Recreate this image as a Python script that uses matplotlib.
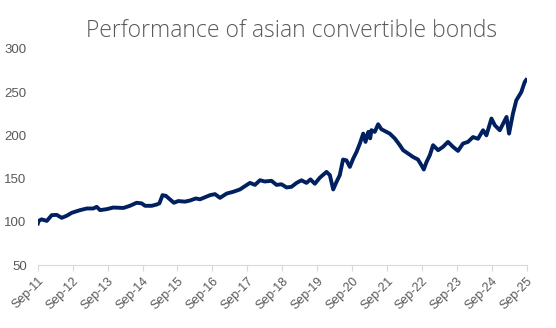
import pandas as pd
import matplotlib
matplotlib.use('Agg')
import matplotlib.pyplot as plt
import matplotlib.dates as mdates

# Values (index level, start ~100)
dates = ['2011-09-01', '2011-09-09', '2011-10-12', '2011-12-04', '2012-01-25', '2012-03-17',
         '2012-05-08', '2012-06-30', '2012-08-21', '2012-11-17', '2013-01-26', '2013-04-04',
         '2013-05-09', '2013-06-13', '2013-08-22', '2013-10-30', '2014-02-13', '2014-04-22',
         '2014-07-01', '2014-08-23', '2014-09-27', '2014-12-06', '2015-01-27', '2015-02-24',
         '2015-03-29', '2015-05-03', '2015-06-14', '2015-07-26', '2015-09-10', '2015-11-19',
         '2016-01-10', '2016-03-12', '2016-04-24', '2016-08-07', '2016-09-28', '2016-11-19',
         '2017-01-29', '2017-04-07', '2017-06-16', '2017-08-07', '2017-09-29', '2017-11-20',
         '2018-01-12', '2018-03-03', '2018-05-12', '2018-07-04', '2018-08-25', '2018-10-17',
         '2018-12-08', '2019-01-30', '2019-03-22', '2019-05-13', '2019-06-24', '2019-08-09',
         '2019-09-30', '2019-12-09', '2020-01-13', '2020-02-17', '2020-03-22', '2020-04-26',
         '2020-05-30', '2020-07-05', '2020-08-09', '2020-09-13', '2020-10-18', '2020-11-22',
         '2020-12-27', '2021-01-20', '2021-02-18', '2021-03-10', '2021-03-23', '2021-04-27',
         '2021-06-01', '2021-07-06', '2021-08-10', '2021-10-01', '2021-11-23', '2022-01-14',
         '2022-02-18', '2022-04-10', '2022-06-01', '2022-07-23', '2022-08-28', '2022-09-22',
         '2022-10-20', '2022-11-24', '2022-12-28', '2023-02-19', '2023-04-11', '2023-06-02',
         '2023-07-24', '2023-09-15', '2023-11-06', '2023-12-28', '2024-02-19', '2024-04-11',
         '2024-06-03', '2024-07-08', '2024-08-30', '2024-10-04', '2024-11-25', '2025-02-04',
         '2025-03-02', '2025-04-12', '2025-05-17', '2025-07-08', '2025-08-13', '2025-08-28']
values = [98, 101, 102.8, 101, 107.7, 108,
          104.6, 107, 110.4, 113.5, 115.4, 115.4,
          117.3, 113.5, 114.6, 116.5, 116, 118.5,
          122, 121.3, 118.5, 118.5, 120, 121.3,
          130.8, 130, 126, 122, 124, 123.3,
          124.6, 127, 126, 130.8, 132, 127.7,
          132.7, 134.7, 137.4, 141.2, 145, 142.7,
          148.1, 146.6, 147.4, 142.7, 143.4, 139.7,
          140.5, 145, 148, 145, 149, 144,
          151, 157.7, 154, 137.4, 146, 154,
          172, 171, 163.5, 173, 180.8, 190.5,
          202, 192.4, 204, 196.5, 206, 204,
          212.8, 207, 205, 202, 196.3, 188.6,
          182.8, 179, 175, 172, 165.5, 160.5,
          169, 177, 188.6, 182.8, 186.7, 192.4,
          186.7, 182, 190.5, 192.4, 198, 196,
          205.9, 200, 219.4, 211.7, 205.9, 221.3,
          202, 225.2, 240.5, 250, 261.7, 264]
tick_years = list(range(2011, 2026))
y_ticks = [50, 100, 150, 200, 250, 300]

dt = pd.to_datetime(dates)
grey = '#595959'

fig = plt.figure(figsize=(5.56, 3.28), dpi=100)
ax = fig.add_axes([0.068, 0.192, 0.879, 0.659])
ax.plot(dt, values, color='#002060', linewidth=2.8, solid_joinstyle='round')

ax.set_xlim(pd.Timestamp('2011-09-01'), pd.Timestamp('2025-09-01'))
ax.set_ylim(50, 300)
ax.set_yticks(y_ticks)
ax.set_xticks([pd.Timestamp(f'{y}-09-01') for y in tick_years])
ax.xaxis.set_major_formatter(mdates.DateFormatter('%b-%y'))

for s in ['top', 'right', 'left']:
    ax.spines[s].set_visible(False)
ax.spines['bottom'].set_color('#d9d9d9')
ax.tick_params(axis='x', colors='#d9d9d9', length=4, labelcolor=grey, labelsize=9, pad=3)
ax.tick_params(axis='y', length=0, labelcolor=grey, labelsize=9.5, pad=8)
for lbl in ax.get_xticklabels():
    lbl.set_rotation(45)
    lbl.set_ha('right')
    lbl.set_rotation_mode('anchor')
for lbl in ax.get_xticklabels() + ax.get_yticklabels():
    lbl.set_fontfamily('Liberation Sans')

fig.text(0.525, 0.905, 'Performance of asian convertible bonds', ha='center', va='center',
         fontsize=16.5, color=grey, fontfamily='Open Sans', fontweight='light')

fig.savefig('out.png', dpi=100)
